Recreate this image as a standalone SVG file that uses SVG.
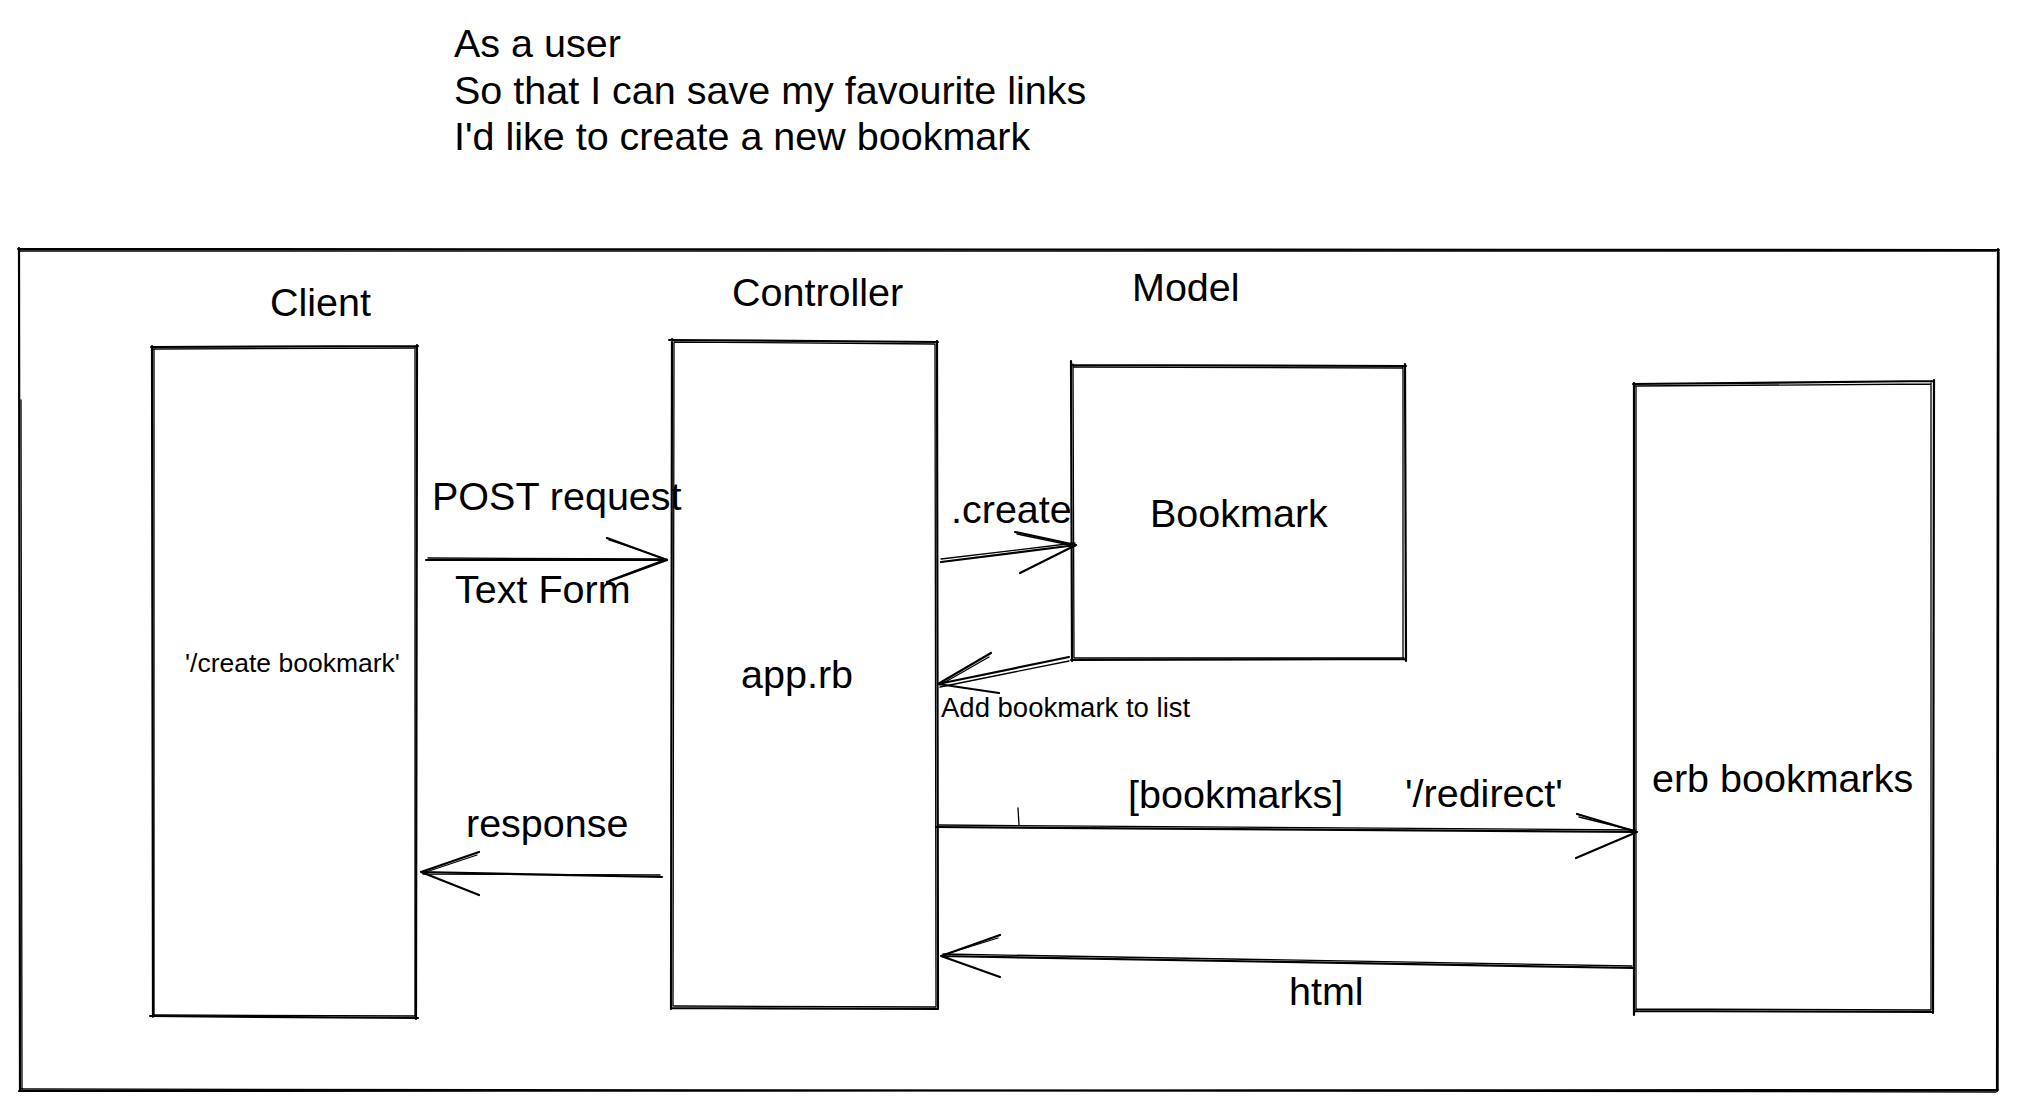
<svg xmlns="http://www.w3.org/2000/svg" width="2018" height="1111" viewBox="0 0 2018 1111">
<style>
.sk{fill:none;stroke:#000;stroke-width:2.2;stroke-linecap:round;stroke-linejoin:round}
.sk2{fill:none;stroke:#000;stroke-width:1.3;stroke-linecap:round}
.t{font-family:"Liberation Sans",Arial,Helvetica,sans-serif;font-size:39.5px;fill:#000}
.s{font-family:"Liberation Sans",Arial,Helvetica,sans-serif;font-size:27px;fill:#000}
</style>
<rect width="2018" height="1111" fill="#fff"/>
<g id="story">
<text class="t" x="454" y="57">As a user</text>
<text class="t" x="454" y="103.5">So that I can save my favourite links</text>
<text class="t" x="454" y="150">I'd like to create a new bookmark</text>
</g>
<g id="frame">
<path class="sk" d="M18 249 L1999 250 M1998 249 L1997 1091 M1998 1090 L19 1091 M19 248 L20 1091"/>
<path class="sk2" d="M20 251 L1996 251 M1999 252 L1998 1089 M1996 1092 L21 1089 M21 400 L22 1089"/>
</g>
<g id="client">
<text class="t" x="270" y="316">Client</text>
<path class="sk" d="M151 347 L418 346 M417 345 L416 1019 M418 1018 L150 1016 M152 346 L153 1017"/>
<path class="sk2" d="M153 349 L416 348 M415 348 L415 1016 M416 1016 L153 1015 M154 349 L154 1015"/>
<text class="s" x="185" y="672" style="font-size:26.5px">'/create bookmark'</text>
</g>
<g id="controller">
<text class="t" x="732" y="306">Controller</text>
<path class="sk" d="M669 340 L938 342 M937 341 L938 1009 M938 1009 L672 1008 M672 339 L671 1009"/>
<path class="sk2" d="M674 342 L935 344 M935 344 L936 1006 M936 1007 L674 1006 M674 343 L673 1006"/>
<text class="t" x="741" y="688">app.rb</text>
</g>
<g id="bookmark">
<text class="t" x="1132" y="301">Model</text>
<path class="sk" d="M1072 365 L1406 366 M1405 364 L1406 661 M1406 659 L1071 660 M1071 361 L1072 661"/>
<path class="sk2" d="M1074 367 L1403 368 M1403 367 L1403 658 M1404 658 L1074 658 M1073 364 L1074 658"/>
<text class="t" x="1150" y="527">Bookmark</text>
</g>
<g id="erb">
<path class="sk" d="M1633 384 L1934 381 M1934 380 L1933 1013 M1933 1012 L1634 1011 M1634 383 L1634 1015"/>
<path class="sk2" d="M1635 386 L1931 384 M1931 383 L1931 1010 M1931 1010 L1636 1009 M1636 386 L1636 1010"/>
<text class="t" x="1652" y="792">erb bookmarks</text>
</g>
<g id="connectors">
<g id="post">
<path class="sk" d="M426 560 L667 560 M607 538 L667 560 L607 582"/>
<path class="sk2" d="M428 558 L665 559 M609 540 L666 559 L610 580"/>
<text class="t" x="432" y="510">POST request</text>
<text class="t" x="455" y="603">Text Form</text>
</g>
<g id="create">
<path class="sk" d="M941 562 L1076 545 M1015 532 L1076 545 L1020 573"/>
<path class="sk2" d="M941 559 L1075 543 M1017 534 L1075 546"/>
<text class="t" x="951" y="523">.create</text>
</g>
<g id="addlist">
<path class="sk" d="M1069 657 L938 684 M991 653 L938 684 L999 693"/>
<path class="sk2" d="M1069 661 L940 687 M989 657 L940 685"/>
<text class="s" x="941" y="717" style="font-size:27.5px">Add bookmark to list</text>
</g>
<g id="response">
<path class="sk" d="M662 877 L421 872 M479 852 L421 872 L479 895"/>
<path class="sk2" d="M660 875 L423 874 M477 855 L423 873"/>
<text class="t" x="466" y="837">response</text>
</g>
<g id="redirect">
<path class="sk" d="M936 827 L1637 832 M1577 814 L1637 832 L1576 858"/>
<path class="sk2" d="M938 825 L1635 830 M1579 817 L1636 831"/>
<path class="sk2" d="M1018 808 L1019 825"/>
<text class="t" x="1128" y="808">[bookmarks]</text>
<text class="t" x="1405" y="807">'/redirect'</text>
</g>
<g id="html">
<path class="sk" d="M1634 968 L941 956 M1000 935 L941 956 L1000 977"/>
<path class="sk2" d="M1632 966 L943 954 M998 938 L943 955"/>
<text class="t" x="1289" y="1005">html</text>
</g>
</g>
</svg>
